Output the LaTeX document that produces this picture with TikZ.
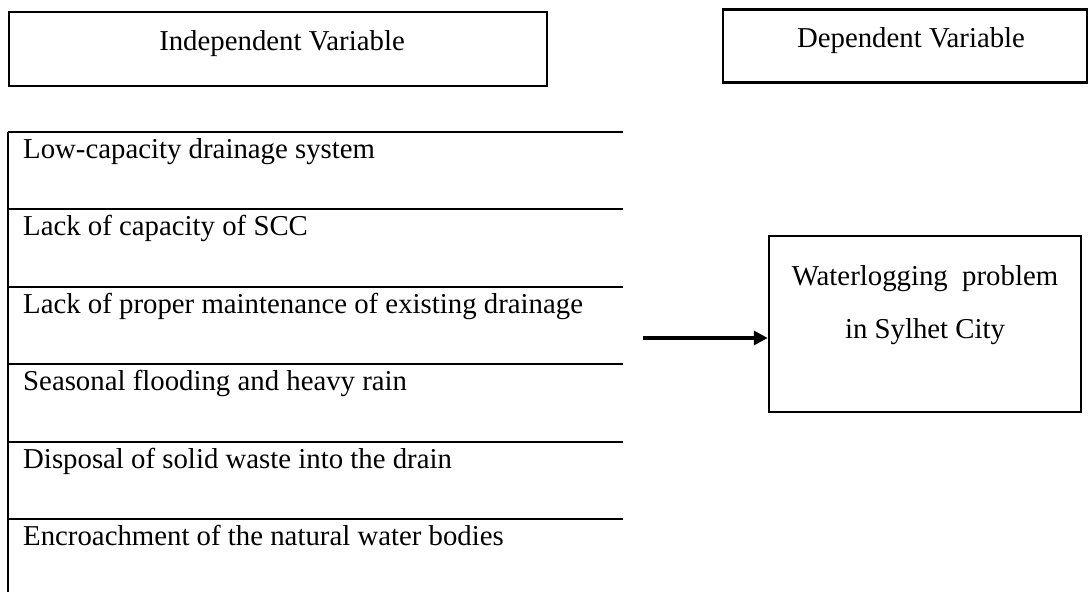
\documentclass[tikz,border=0pt]{standalone}
\usepackage{fontspec}
\setmainfont{Liberation Serif}
\usetikzlibrary{arrows.meta}
\begin{document}
\begin{tikzpicture}[x=1pt,y=-1pt,
  every node/.style={font=\fontsize{28.8pt}{34pt}\selectfont},
  box/.style={draw,line width=2.5pt,rectangle,inner sep=0pt},
  txt/.style={anchor=base,inner sep=0pt},
  rowtxt/.style={anchor=base west,inner sep=0pt},
  rule/.style={line width=1.3pt},
  arr/.style={line width=4pt,-{Triangle[length=14pt,width=14pt]}}]
\useasboundingbox (0,0) rectangle (1089,592);
% header boxes
\node[box,minimum width=538pt,minimum height=74pt] (indep) at (278,49) {};
\node[txt] (indeptxt) at (282,50) {Independent Variable};
\node[box,minimum width=364pt,minimum height=73pt] (dep) at (905,46) {};
\node[txt] (deptxt) at (911,47) {Dependent Variable};
% table of factors
\coordinate (tl) at (8,132);
\coordinate (bl) at (8,592);
\draw[rule] (tl) -- (bl);
\foreach \y/\t [count=\i] in {132/Low-capacity drainage system,
  209/Lack of capacity of SCC,
  287/Lack of proper maintenance of existing drainage,
  364/Seasonal flooding and heavy rain,
  442/Disposal of solid waste into the drain,
  519/Encroachment of the natural water bodies}{
  \coordinate (l\i) at (8,\y);
  \coordinate (r\i) at (623,\y);
  \draw[rule] (l\i) -- (r\i);
  \node[rowtxt] (f\i) at (23,\y+26) {\t};
}
% dependent box
\node[box,minimum width=312pt,minimum height=176pt] (wl) at (925,324) {};
\node[txt] (wl1) at (925,285) {Waterlogging\ \ problem};
\node[txt] (wl2) at (925,338) {in Sylhet City};
% arrow
\coordinate (src) at (643,338);
\draw[arr] (src) -- (src -| wl.west);
\end{tikzpicture}
\end{document}
